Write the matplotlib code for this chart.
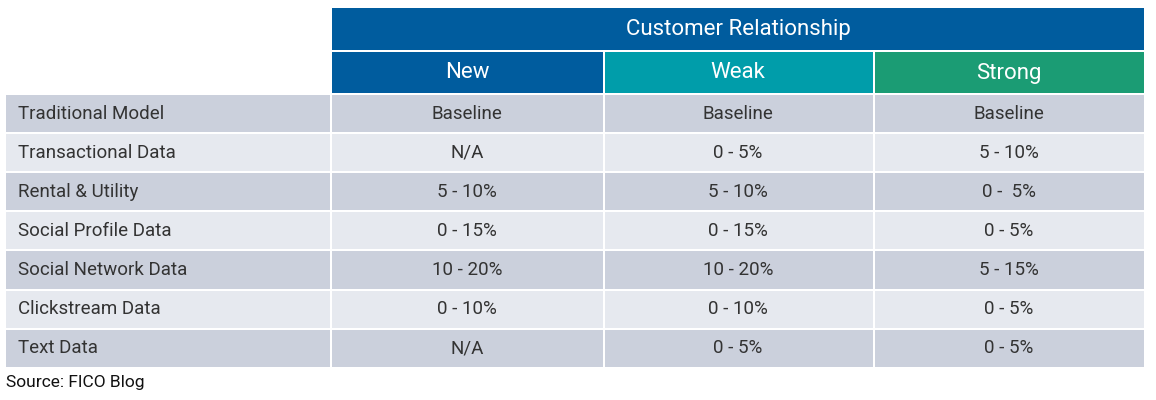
import matplotlib
matplotlib.use("Agg")
import matplotlib.pyplot as plt
from matplotlib.patches import Rectangle

title = "Customer Relationship"
columns = ["New", "Weak", "Strong"]
rows = ["Traditional Model", "Transactional Data", "Rental & Utility", "Social Profile Data",
        "Social Network Data", "Clickstream Data", "Text Data"]
new_vals = ["Baseline", "N/A", "5 - 10%", "0 - 15%", "10 - 20%", "0 - 10%", "N/A"]
weak_vals = ["Baseline", "0 - 5%", "5 - 10%", "0 - 15%", "10 - 20%", "0 - 10%", "0 - 5%"]
strong_vals = ["Baseline", "5 - 10%", "0 -  5%", "0 - 5%", "5 - 15%", "0 - 5%", "0 - 5%"]
source = "Source: FICO Blog"

col_colors = ["#005C9E", "#009DAA", "#1B9C74"]
row_colors = ["#CBD0DC", "#E6E9EF"]
txt = "#333333"

fig = plt.figure(figsize=(11.56, 4.0), dpi=100)
ax = fig.add_axes([0, 0, 1, 1])
ax.set_xlim(0, 1156); ax.set_ylim(400, 0); ax.axis("off")
plt.rcParams["font.family"] = "Roboto"

x0, xl, xe = 6, 332, 1144
cw = (xe - xl) / 3
g = 2
# title header
ax.add_patch(Rectangle((xl, 8), xe - xl, 42, color="#005C9E", lw=0))
ax.text((xl + xe) / 2, 30, title, color="white", fontsize=16, ha="center", va="center")
for i, c in enumerate(columns):
    ax.add_patch(Rectangle((xl + i * cw + (g if i else 0), 52), cw - (g if i else 0), 41, color=col_colors[i], lw=0))
    ax.text(xl + (i + 0.5) * cw, 73, c, color="white", fontsize=16, ha="center", va="center")

rh = 39.1
y0 = 95
data = list(zip(new_vals, weak_vals, strong_vals))
for r, name in enumerate(rows):
    y = y0 + r * rh
    col = row_colors[r % 2]
    ax.add_patch(Rectangle((x0, y), xl - x0 - g, rh - g, color=col, lw=0))
    ax.text(18, y + (rh - g) / 2, name, color=txt, fontsize=13.5, ha="left", va="center")
    for i, v in enumerate(data[r]):
        ax.add_patch(Rectangle((xl + i * cw + (g if i else 0), y), cw - (g if i else 0), rh - g, color=col, lw=0))
        ax.text(xl + (i + 0.5) * cw, y + (rh - g) / 2, v, color=txt, fontsize=13.5, ha="center", va="center")

ax.text(6, 383, source, color="#111111", fontsize=12.5, ha="left", va="center")
fig.savefig("out.png", dpi=100)
